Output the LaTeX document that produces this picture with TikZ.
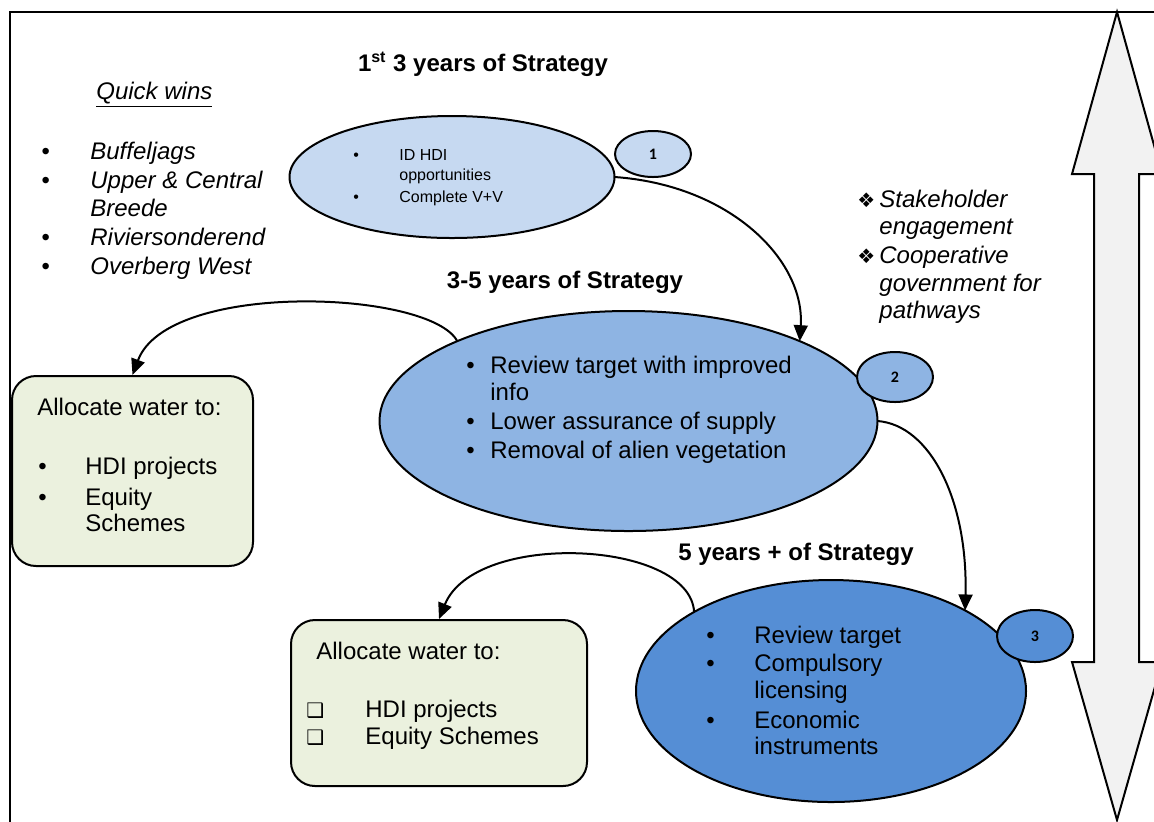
\documentclass[tikz,border=0pt]{standalone}
\usepackage{fontspec}
\setmainfont{Liberation Sans}
\newfontfamily\dejavu{DejaVu Sans}
\newfontfamily\carlito{Carlito}
\usetikzlibrary{arrows.meta,shapes.geometric}
\definecolor{eone}{HTML}{C6D9F1}
\definecolor{etwo}{HTML}{8EB4E3}
\definecolor{ethree}{HTML}{558ED5}
\definecolor{boxgreen}{HTML}{EBF1DE}
\definecolor{arrowgray}{HTML}{F2F2F2}
\newcommand{\bulw}[1]{\makebox[#1][l]{\textbullet}}
\newcommand{\dia}{\makebox[11pt][l]{\dejavu\upshape\fontsize{10}{10}\selectfont ❖}}
\newcommand{\chk}{\makebox[29.5pt][l]{\dejavu\bfseries\fontsize{10}{10}\selectfont ❑}}
\begin{document}
\begin{tikzpicture}[x=0.5pt,y=-0.5pt,
  stage/.style={ellipse, draw, line width=1pt, inner sep=0pt, outer sep=0pt},
  badge/.style={ellipse, draw, line width=1pt, inner sep=0pt, minimum width=38pt, minimum height=25pt, font=\carlito\bfseries\fontsize{8}{9}\selectfont},
  allocbox/.style={draw, line width=1pt, fill=boxgreen, rounded corners=12pt, inner sep=0pt},
  flow/.style={-{Triangle[length=8pt,width=7pt]}, line width=1pt},
  txt/.style={anchor=base west, inner sep=0pt, font=\fontsize{12}{14}\selectfont},
  itxt/.style={anchor=base west, inner sep=0pt, font=\fontsize{12}{14}\selectfont\itshape},
  stxt/.style={anchor=base west, inner sep=0pt, font=\fontsize{8}{10}\selectfont},
  head/.style={anchor=base, inner sep=0pt, font=\fontsize{12}{14}\selectfont\bfseries},
  bigarrow/.style={draw, line width=1pt, fill=arrowgray}]
\clip (0,0) rectangle (1154,821);
\useasboundingbox (0,0) rectangle (1154,821);
% frame
\draw[line width=1pt] (10,840) -- (10,12) -- (1170,12);
% double arrow
\draw[bigarrow] (1117,12) -- (1162,174) -- (1139,174) -- (1139,662) -- (1162,662)
  -- (1117,820) -- (1072,662) -- (1094,662) -- (1094,174) -- (1072,174) -- cycle;
% headings
\node[head] (h1) at (483,71) {1\textsuperscript{st} 3 years of Strategy};
\node[head] (h2) at (565,288) {3-5 years of Strategy};
\node[head] (h3) at (796,560) {5 years + of Strategy};
% quick wins
\node[itxt] (qw) at (96,99) {\underline{Quick wins}};
\node[itxt] (q1) at (41,159) {\bulw{24.5pt}Buffeljags};
\node[itxt] (q2) at (41,188) {\bulw{24.5pt}Upper \& Central};
\node[itxt] (q3) at (90,216) {Breede};
\node[itxt] (q4) at (41,245) {\bulw{24.5pt}Riviersonderend};
\node[itxt] (q5) at (41,274) {\bulw{24.5pt}Overberg West};
% stakeholder
\node[itxt] (s1) at (857,207) {\dia Stakeholder};
\node[itxt] (s2) at (879,234) {engagement};
\node[itxt] (s3) at (857,263) {\dia Cooperative};
\node[itxt] (s4) at (879,291) {government for};
\node[itxt] (s5) at (879,318) {pathways};
% stages
\node[stage, fill=eone, minimum width=162.5pt, minimum height=61pt] (e1) at (452,177) {};
\node[stage, fill=etwo, minimum width=249pt, minimum height=110pt] (e2) at (628.5,421) {};
\node[stage, fill=ethree, minimum width=195pt, minimum height=111pt] (e3) at (831,691) {};
% badges
\node[badge, fill=eone, minimum height=23pt] (n1) at (653,154) {1};
\node[badge, fill=etwo] (n2) at (895,377) {2};
\node[badge, fill=ethree, minimum height=26pt] (n3) at (1035,636) {3};
% stage texts
\node[stxt] (t11) at (353,160) {\bulw{23pt}ID HDI};
\node[stxt] (t12) at (399,180) {opportunities};
\node[stxt] (t13) at (353,202) {\bulw{23pt}Complete V+V};
\node[txt] (t21) at (466,373) {\bulw{12pt}Review target with improved};
\node[txt] (t22) at (490,400) {info};
\node[txt] (t23) at (466,429) {\bulw{12pt}Lower assurance of supply};
\node[txt] (t24) at (466,458) {\bulw{12pt}Removal of alien vegetation};
\node[txt] (t31) at (706,643) {\bulw{24pt}Review target};
\node[txt] (t32) at (706,671) {\bulw{24pt}Compulsory};
\node[txt] (t33) at (754,698) {licensing};
\node[txt] (t34) at (706,728) {\bulw{24pt}Economic};
\node[txt] (t35) at (754,754) {instruments};
% allocation boxes
\node[allocbox, minimum width=120.5pt, minimum height=95pt] (box1) at (132.5,471) {};
\node[allocbox, minimum width=148pt, minimum height=83pt] (box2) at (439,703) {};
\node[txt] (a1) at (37,415) {Allocate water to:};
\node[txt] (a2) at (38,474) {\bulw{23.5pt}HDI projects};
\node[txt] (a3) at (38,505) {\bulw{23.5pt}Equity};
\node[txt] (a4) at (85,531) {Schemes};
\node[txt] (c1) at (316,659) {Allocate water to:};
\node[txt] (c2) at (306,717) {\chk HDI projects};
\node[txt] (c3) at (306,744) {\chk Equity Schemes};
% connectors
\draw[flow] (e1.east) .. controls (730,185) and (805,260) .. (e2.25);
\draw[flow] (e2.east) .. controls (930,425) and (968,500) .. (e3.31);
\draw[flow] (e2.155) .. controls (430,290) and (168,280) .. (box1.north);
\draw[flow] (e3.150) .. controls (690,540) and (475,530) .. (box2.north);
\end{tikzpicture}
\end{document}
